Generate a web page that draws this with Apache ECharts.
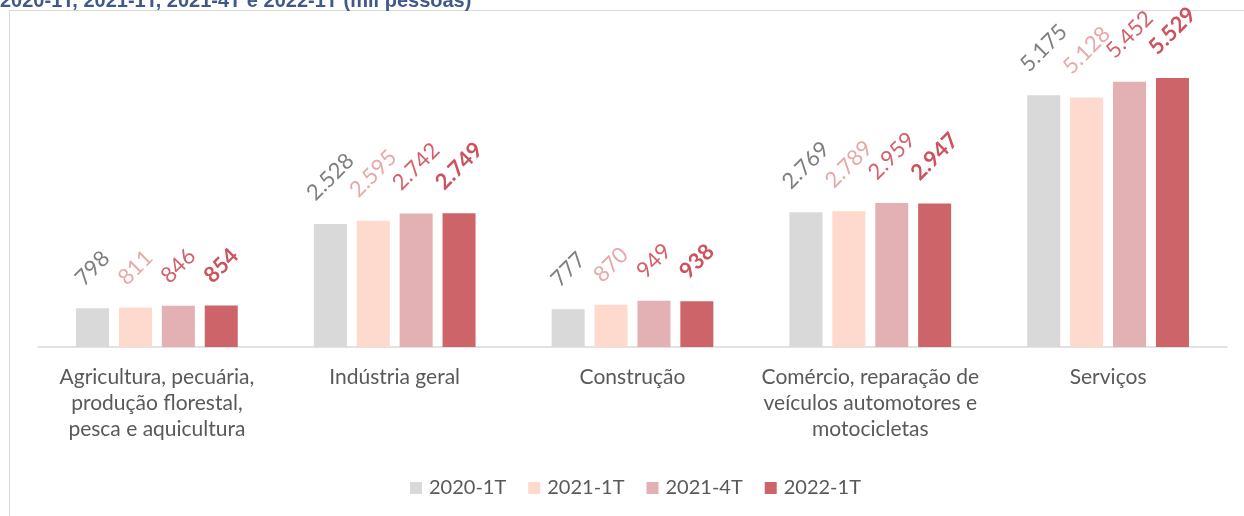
<!DOCTYPE html>
<html>
<head>
<meta charset="utf-8">
<script src="https://cdn.jsdelivr.net/npm/echarts@6/dist/echarts.min.js"></script>
<style>
  html, body { margin: 0; padding: 0; background: #fff; }
  #chart { width: 1244px; height: 516px; }
</style>
</head>
<body>
<div id="chart"></div>
<script>
// dados (mil pessoas)
var categorias = [
  'Agricultura, pecuária,\nprodução florestal,\npesca e aquicultura',
  'Indústria geral',
  'Construção',
  'Comércio, reparação de\nveículos automotores e\nmotocicletas',
  'Serviços'
];
var periodos = ['2020-1T', '2021-1T', '2021-4T', '2022-1T'];
var v2020_1T = [798, 2528, 777, 2769, 5175];
var v2021_1T = [811, 2595, 870, 2789, 5128];
var v2021_4T = [846, 2742, 949, 2959, 5452];
var v2022_1T = [854, 2749, 938, 2947, 5529];

var valores = [v2020_1T, v2021_1T, v2021_4T, v2022_1T];
var coresBarra = ['#d9d9d9', '#fdd9ce', '#e3b0b3', '#cc6469'];
var coresRotulo = ['#7f7f7f', '#e8a8aa', '#d3616b', '#cc535d'];
var fonte = 'Lato, "Noto Sans", sans-serif';

function fmt(v) {
  // separador de milhar pt-BR
  return String(v).replace(/\B(?=(\d{3})+(?!\d))/g, '.');
}

var myChart = echarts.init(document.getElementById('chart'));

var series = periodos.map(function (p, i) {
  return {
    name: p,
    type: 'bar',
    barWidth: 33,
    barGap: '30%',
    itemStyle: { color: coresBarra[i] },
    data: valores[i].map(function (v) {
      var s = fmt(v);
      return {
        value: v,
        label: { distance: 29 + 3.6 * s.length }
      };
    }),
    label: {
      show: true,
      position: 'top',
      rotate: 45,
      align: 'center',
      verticalAlign: 'middle',
      fontFamily: fonte,
      fontSize: 22,
      fontWeight: i === 3 ? 'bold' : 'normal',
      color: coresRotulo[i],
      formatter: function (pr) { return fmt(pr.value); }
    }
  };
});

myChart.setOption({
  animation: false,
  graphic: [
    {
      type: 'rect',
      shape: { x: 9.5, y: 10.5, width: 1400, height: 700 },
      style: { fill: 'none', stroke: '#d9d9d9', lineWidth: 1 }
    },
    {
      type: 'text',
      x: 0,
      y: -9,
      style: {
        text: '2020-1T, 2021-1T, 2021-4T e 2022-1T (mil pessoas)',
        font: 'bold 20px "Liberation Sans", Arial, sans-serif',
        fill: '#40598a',
        textVerticalAlign: 'top'
      }
    }
  ],
  grid: { left: 38, right: 17, top: 55, bottom: 169 },
  legend: {
    data: periodos,
    bottom: 13,
    left: 405,
    itemWidth: 12,
    itemHeight: 12,
    itemGap: 22,
    icon: 'rect',
    textStyle: { fontFamily: fonte, fontSize: 20, color: '#595959', padding: [0, 0, 0, 2] }
  },
  xAxis: {
    type: 'category',
    data: categorias,
    axisLine: { lineStyle: { color: '#d9d9d9', width: 1.5 } },
    axisTick: { show: false },
    axisLabel: {
      interval: 0,
      margin: 17,
      fontFamily: fonte,
      fontSize: 21,
      lineHeight: 26,
      color: '#595959'
    }
  },
  yAxis: {
    type: 'value',
    min: 0,
    max: 6000,
    show: false,
    splitLine: { show: false }
  },
  series: series
});
</script>
</body>
</html>
